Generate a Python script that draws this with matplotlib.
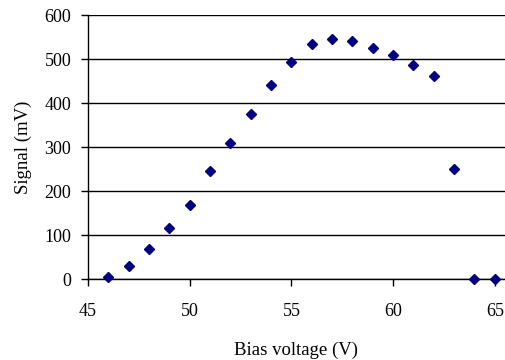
import matplotlib.pyplot as plt
import numpy as np

plt.rcParams['font.family'] = ['Liberation Serif', 'DejaVu Serif']

bias_v = [46, 47, 48, 49, 50, 51, 52, 53, 54, 55, 56, 57, 58, 59, 60, 61, 62, 63, 64, 65]
signal_mv = [5, 30, 68, 115, 168, 246, 310, 376, 441, 494, 535, 546, 541, 526, 510, 487, 462, 250, 0, 0]

fig = plt.figure(figsize=(5.05, 3.6), dpi=100)
ax = fig.add_axes([88/505, 1-279/360, 1-88/505, (279-15)/360])

ax.plot(bias_v, signal_mv, linestyle='none', marker='D', markersize=5,
        color='#000080', clip_on=False, zorder=3)

ax.set_xlim(45, 65.5)
ax.set_ylim(0, 600)
ax.set_xticks(np.arange(45, 66, 5))
ax.set_yticks(np.arange(0, 601, 100))
ax.yaxis.grid(True, color='black', linewidth=1)
ax.set_axisbelow(True)

for s in ['top', 'right']:
    ax.spines[s].set_visible(False)
ax.spines['left'].set_linewidth(1)
ax.spines['bottom'].set_linewidth(1)
ax.tick_params(direction='out', length=5, width=1, labelsize=13)
ax.tick_params(axis='y', pad=7)
ax.tick_params(axis='x', pad=12)

ax.set_xlabel('Bias voltage (V)', fontsize=13.5, labelpad=16)
ax.set_ylabel('Signal (mV)', fontsize=13.5, labelpad=9)

fig.savefig('out.png', dpi=100)
